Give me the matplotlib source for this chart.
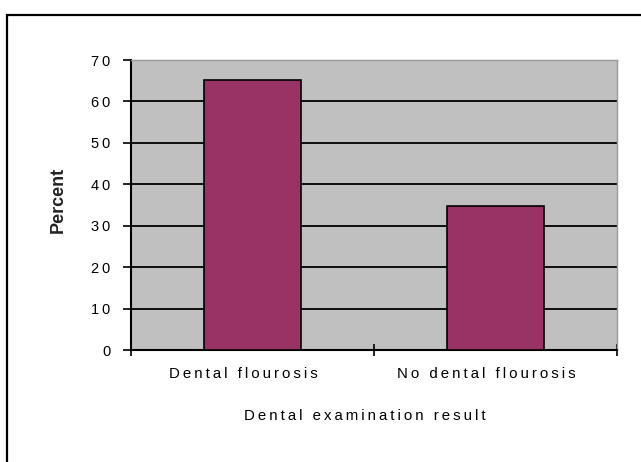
import matplotlib
matplotlib.use("Agg")
import matplotlib.pyplot as plt
import matplotlib.transforms as mtransforms
from matplotlib.patches import Rectangle

plt.rcParams['font.family'] = ['Liberation Sans', 'DejaVu Sans']

# data
categories = ["Dental flourosis", "No dental flourosis"]
percent = [65.2, 34.8]
yticks = [0, 10, 20, 30, 40, 50, 60, 70]

def spaced(s):
    # the original has wide letter spacing
    return "\u2009".join(s)

fig = plt.figure(figsize=(6.41, 4.62), dpi=100)
# outer chart frame (left and top visible)
fig.patches.append(Rectangle((7 / 641, -0.1), 1.2, 1.1 - 15 / 462,
                             transform=fig.transFigure, fill=False,
                             edgecolor='black', lw=1.6))

ax = fig.add_axes([131 / 641, 112 / 462, 486 / 641, 290 / 462])
ax.set_facecolor('#c0c0c0')

x = range(len(categories))
ax.bar(x, percent, width=0.4, color='#993366', edgecolor='black', lw=1.2, zorder=3)

ax.set_xlim(-0.5, len(categories) - 0.5)
ax.set_ylim(0, 70)
ax.set_yticks(yticks)
ax.set_yticklabels([spaced(str(v)) for v in yticks], fontsize=10.5)
for v in yticks[1:-1]:
    ax.axhline(v, color='black', lw=1.3, zorder=1)

ax.set_xticks([i - 0.5 for i in range(len(categories) + 1)])
ax.set_xticklabels([])
ax.set_xticks(list(x), minor=True)
ax.set_xticklabels([spaced(c) for c in categories], minor=True, fontsize=10.8)
ax.tick_params(axis='x', which='minor', length=0, pad=12)
ax.tick_params(axis='x', which='major', direction='inout', length=8, width=1.2)
ax.tick_params(axis='y', direction='out', length=6, width=1.2, pad=9)

# labels sit a bit left of the bar centres in the original
shift = mtransforms.ScaledTranslation(-0.09, 0, fig.dpi_scale_trans)
for lab in ax.get_xticklabels(minor=True):
    lab.set_transform(lab.get_transform() + shift)

for s in ['left', 'bottom']:
    ax.spines[s].set_color('black')
    ax.spines[s].set_linewidth(1.5)
for s in ['top', 'right']:
    ax.spines[s].set_color('#9a9a9a')
    ax.spines[s].set_linewidth(1.0)

fig.text(58 / 641, 1 - 200 / 462, "Percent", rotation=90, fontsize=13,
         fontweight='bold', ha='center', va='center', color='#222222')
fig.text(365 / 641, 1 - 416 / 462, spaced("Dental examination result"),
         fontsize=10.8, ha='center', va='center')

fig.savefig("out.png", dpi=100)
